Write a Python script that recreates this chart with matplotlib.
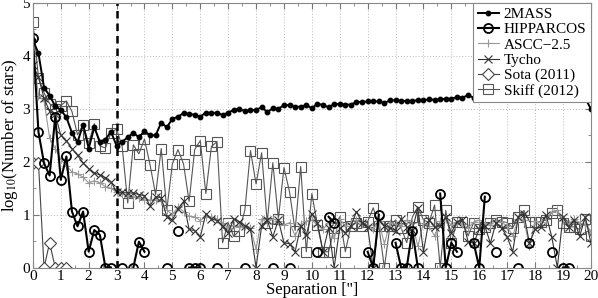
import numpy as np
import matplotlib
matplotlib.use("Agg")
import matplotlib.pyplot as plt
from matplotlib.ticker import MultipleLocator

nan = np.nan

# separation bins, 0.2" wide
separation = np.arange(101) * 0.2

twomass = [4.30, 4.05, 3.40, 3.25, 3.05, 2.98, 2.84, 2.55, 2.37, 2.70,
           2.25, 2.65, 2.38, 2.42, 2.57, 2.30, 2.38, 2.46, 2.55, 2.46,
           2.58, 2.50, 2.50, 2.74, 2.65, 2.81, 2.85, 2.92, 2.90, 2.89,
           2.85, 2.93, 2.92, 2.93, 2.88, 2.93, 2.98, 2.99, 2.96, 2.97,
           2.98, 3.03, 2.94, 3.01, 3.00, 3.07, 3.07, 3.04, 3.04, 3.07,
           3.01, 3.10, 3.07, 3.03, 3.09, 3.09, 3.08, 3.08, 3.13, 3.13,
           3.14, 3.14, 3.14, 3.11, 3.16, 3.16, 3.15, 3.15, 3.15, 3.16,
           3.16, 3.18, 3.17, 3.18, 3.19, 3.19, 3.22, 3.21, 3.26, 3.21,
           3.21, 3.22, 3.23, 3.22, 3.24, 3.23, 3.25, 3.24, 3.24, 3.26,
           3.25, 3.25, 3.27, 3.26, 3.26, 3.27, 3.27, 3.28, 3.26, 3.20,
           3.00]

hipparcos = [4.34, 2.56, 1.97, 1.74, 2.85, 1.66, 2.10, 1.06, 0.78, 1.06,
             0.30, 0.71, 0.62, 0.00, 0.00, nan, 0.00, nan, 0.00, 0.49,
             0.30, nan, nan, nan, 0.00, nan, 0.70, nan, 0.00, 0.00,
             0.00, nan, nan, 0.00, nan, nan, nan, nan, 0.00, nan,
             nan, nan, nan, 0.00, nan, nan, 0.00, nan, nan, nan,
             nan, 0.30, nan, 0.96, 0.85, nan, nan, nan, nan, nan,
             0.30, 0.00, 1.00, nan, nan, 0.47, 0.00, 0.00, 0.70, 0.00,
             nan, nan, nan, 1.40, 0.00, 0.47, 0.30, nan, nan, 0.47,
             0.00, 1.34, nan, 0.30, nan, nan, nan, 0.00, nan, 0.47,
             nan, nan, nan, 0.30, nan, 0.00, 0.00, nan, nan, nan,
             nan]

ascc = [4.10, 3.25, 3.15, 2.45, 2.25, 2.05, 1.92, 1.81, 1.77, 1.71,
        1.60, 1.64, 1.60, 1.53, 1.50, 1.42, 1.39, 1.36, 1.34, 1.32,
        1.27, 1.28, 1.28, 1.25, 1.09, 1.00, 1.15, 1.06, 0.97, 0.96,
        0.89, 0.96, 0.96, 0.92, 0.85, 0.74, 0.80, 0.76, 0.78, 0.74,
        0.35, 0.92, 0.85, 0.92, 0.88, 0.80, 0.85, 0.60, 0.82, 0.88,
        0.90, 0.80, 0.72, 0.85, 0.55, 0.92, 0.78, 0.85, 0.90, 0.82,
        0.80, 0.72, 0.88, 0.45, 0.85, 0.82, 0.78, 0.90, 0.84, 0.40,
        0.85, 0.78, 0.60, 0.88, 0.92, 0.80, 0.86, 0.82, 0.75, 0.86,
        0.90, 0.84, 0.80, 0.88, 0.86, 0.78, 0.60, 0.92, 0.90, 0.40,
        0.88, 0.86, 0.92, 1.05, 1.08, 0.90, 0.82, 0.92, 0.85, 0.80,
        0.70]

tycho = [3.83, 3.60, 3.20, 2.95, 2.90, 2.50, 2.40, 2.25, 2.12, 1.98,
         1.87, 1.79, 1.75, 1.70, 1.62, 1.43, 1.42, 1.41, 1.41, 1.38,
         1.36, 1.17, 1.34, 1.32, 0.96, 0.90, 1.11, 1.25, 0.72, 0.70,
         0.58, 1.02, 0.92, 0.89, 0.79, 0.66, 0.92, 0.87, 0.79, 0.73,
         0.00, 0.79, 0.90, 0.58, 0.90, 0.47, 0.45, 0.30, 0.79, 0.62,
         1.02, 0.85, 0.30, 0.75, 0.00, 0.75, 0.66, 0.79, 1.06, 0.85,
         0.77, 0.00, 0.90, 0.79, 0.75, 0.70, 0.92, 0.77, 0.71, 1.13,
         0.30, 0.90, 0.77, 0.79, 0.96, 0.66, 0.87, 0.90, 0.49, 0.46,
         0.72, 0.79, 0.46, 0.85, 0.75, 0.58, 0.30, 0.96, 1.02, 0.46,
         0.72, 0.77, 0.99, 0.58, 0.00, 0.96, 0.77, 0.90, 0.59, 0.96,
         0.47]

sota = [1.98, 1.98, 0.00, 0.47, 0.00, 0.00, 0.00] + [nan] * 94

skiff = [4.64, 3.59, 3.30, 3.10, 3.00, 3.06, 3.15, 2.95, 2.51, 2.70,
         2.35, 2.72, 2.30, 2.26, 2.55, 2.62, 2.29, 1.22, 2.32, 2.15,
         2.43, 1.94, 1.38, 2.25, 1.09, 1.96, 2.23, 1.96, 1.25, 2.23,
         2.40, 1.40, 2.29, 2.38, 0.47, 0.85, 0.59, 0.70, 1.09, 2.21,
         1.58, 2.17, 0.85, 1.98, 0.92, 1.89, 1.43, 0.70, 1.91, 0.30,
         1.40, 0.80, 0.30, 0.30, 0.75, 0.96, 0.30, 0.79, 0.85, 0.79,
         0.87, 1.13, 0.79, 0.00, 0.79, 0.90, 0.75, 0.47, 0.95, 1.15,
         0.90, 0.85, 1.18, 0.00, 1.08, 0.47, 0.87, 0.87, 0.60, 0.85,
         0.72, 0.77, 0.85, 0.90, 0.87, 0.85, 0.75, 0.96, 1.08, 0.87,
         0.87, 0.87, 0.90, 1.04, 1.08, 0.85, 0.77, 0.77, 0.72, 0.92,
         0.60]

plt.rcParams["font.family"] = ["Liberation Serif", "DejaVu Serif"]
plt.rcParams["mathtext.fontset"] = "stix"

fig = plt.figure(figsize=(5.98, 2.98), dpi=100)
ax = fig.add_axes([0.055, 0.102, 0.933, 0.888])

h_skiff, = ax.plot(separation, skiff, color="#555555", lw=0.8, marker="s",
                   ms=7, mfc="none", mec="#555555", mew=0.8,
                   label="Skiff (2012)")
h_ascc, = ax.plot(separation, ascc, color="#999999", lw=0.8, marker="+",
                  ms=6, mew=0.8, label="ASCC\u22122.5")
h_tycho, = ax.plot(separation, tycho, color="#333333", lw=0.8, marker="x",
                   ms=6, mew=0.8, label="Tycho")
h_sota, = ax.plot(separation, sota, color="#444444", lw=0.8, marker="D",
                  ms=6.5, mfc="white", mec="#444444", mew=0.8,
                  label="Sota (2011)")
h_hip, = ax.plot(separation, hipparcos, color="black", lw=1.5, marker="o",
                 ms=6.5, mfc="none", mec="black", mew=1.3,
                 label="HIPPARCOS")
h_2mass, = ax.plot(separation, twomass, color="black", lw=1.4, marker="o",
                   ms=3.2, label="2MASS")

ax.axvline(3, color="black", lw=1.8, ls=(0, (3, 2)))

ax.set_xlim(0, 20)
ax.set_ylim(0, 5)
ax.xaxis.set_major_locator(MultipleLocator(1))
ax.xaxis.set_minor_locator(MultipleLocator(0.5))
ax.yaxis.set_major_locator(MultipleLocator(1))
ax.yaxis.set_minor_locator(MultipleLocator(0.5))
ax.tick_params(which="both", direction="in", top=True, right=True,
               colors="#777777", labelcolor="black", labelsize=11, pad=2)
ax.tick_params(which="major", length=4)
ax.tick_params(which="minor", length=2)
for sp in ax.spines.values():
    sp.set_color("#888888")

ax.grid(True, which="major", ls=(0, (1, 2)), color="#bbbbbb", lw=0.7)

ax.set_xlabel("Separation ['']", fontsize=12, labelpad=-1)
ax.set_ylabel("log$_{10}$(Number of stars)", fontsize=12, labelpad=2)

leg = ax.legend(handles=[h_2mass, h_hip, h_ascc, h_tycho, h_sota, h_skiff],
                loc="upper right", fontsize=11, fancybox=False,
                framealpha=1, edgecolor="#888888", borderaxespad=0,
                handlelength=1.4, handletextpad=0.3, labelspacing=0.1,
                borderpad=0.3)
leg.get_frame().set_linewidth(0.8)

fig.savefig("out.png", dpi=100)
